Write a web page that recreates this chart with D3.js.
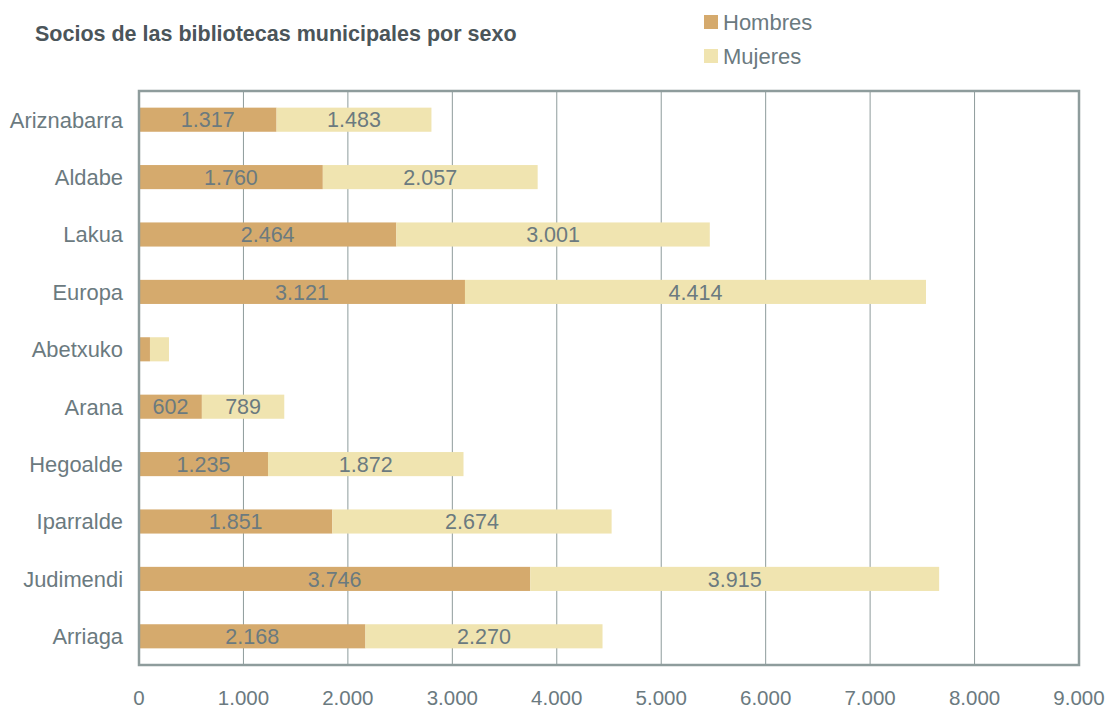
<!DOCTYPE html>
<html>
<head>
<meta charset="utf-8">
<script src="https://cdn.jsdelivr.net/npm/d3@7/dist/d3.min.js"></script>
<style>
  body { margin: 0; background: #fff; }
  svg text { font-family: 'Liberation Sans', Arial, sans-serif; }
</style>
</head>
<body>
<svg id="chart" width="1109" height="709"></svg>
<script>
const bibliotecas = ['Ariznabarra', 'Aldabe', 'Lakua', 'Europa', 'Abetxuko', 'Arana', 'Hegoalde', 'Iparralde', 'Judimendi', 'Arriaga'];
const hombres = [1317, 1760, 2464, 3121, 105, 602, 1235, 1851, 3746, 2168];
const mujeres = [1483, 2057, 3001, 4414, 182, 789, 1872, 2674, 3915, 2270];
const xTicks = [0, 1000, 2000, 3000, 4000, 5000, 6000, 7000, 8000, 9000];
const series = ['Hombres', 'Mujeres'];

const colors = { Hombres: '#d5aa6d', Mujeres: '#f0e4b0' };
const textColor = '#6b7a7f';
const frameColor = '#8e9c9c';

const margin = { top: 91, right: 30, bottom: 44, left: 139 };
const width = 1109;
const height = 709;

const svg = d3.select('#chart');

// format with dot thousands separator
const fmt = d3.formatLocale({ decimal: ',', thousands: '.', grouping: [3], currency: ['', '€'] }).format(',d');

const x = d3.scaleLinear().domain([0, 9000]).range([margin.left, width - margin.right]);
const y = d3.scaleBand()
  .domain(bibliotecas)
  .range([margin.top, height - margin.bottom])
  .paddingInner(0.58)
  .paddingOuter(0.29);

// grid lines
svg.append('g')
  .selectAll('line')
  .data(xTicks.slice(1, -1))
  .join('line')
  .attr('x1', (d) => x(d))
  .attr('x2', (d) => x(d))
  .attr('y1', margin.top)
  .attr('y2', height - margin.bottom)
  .attr('stroke', frameColor)
  .attr('stroke-width', 1);

// stacked bars
const rows = bibliotecas.map((b, i) => ({ name: b, Hombres: hombres[i], Mujeres: mujeres[i] }));
const stacked = d3.stack().keys(series)(rows);

const layers = svg.append('g')
  .selectAll('g')
  .data(stacked)
  .join('g')
  .attr('fill', (d) => colors[d.key]);

layers.selectAll('rect')
  .data((d) => d)
  .join('rect')
  .attr('x', (d) => x(d[0]))
  .attr('width', (d) => x(d[1]) - x(d[0]))
  .attr('y', (d) => y(d.data.name))
  .attr('height', y.bandwidth());

// value labels (skip the tiny Abetxuko segments)
layers.selectAll('text')
  .data((d) => d.map((v) => ({ v, key: d.key })))
  .join('text')
  .filter((d) => d.v.data[d.key] >= 500)
  .attr('x', (d) => (x(d.v[0]) + x(d.v[1])) / 2)
  .attr('y', (d) => y(d.v.data.name) + y.bandwidth() / 2)
  .attr('dy', '0.36em')
  .attr('text-anchor', 'middle')
  .attr('fill', textColor)
  .style('font-size', '21.5px')
  .text((d) => fmt(d.v.data[d.key]));

// plot frame
svg.append('rect')
  .attr('x', margin.left)
  .attr('y', margin.top)
  .attr('width', width - margin.right - margin.left)
  .attr('height', height - margin.bottom - margin.top)
  .attr('fill', 'none')
  .attr('stroke', frameColor)
  .attr('stroke-width', 2.5);

// category labels
svg.append('g')
  .selectAll('text')
  .data(bibliotecas)
  .join('text')
  .attr('x', 123)
  .attr('y', (d) => y(d) + y.bandwidth() / 2)
  .attr('dy', '0.36em')
  .attr('text-anchor', 'end')
  .attr('fill', textColor)
  .style('font-size', '21.9px')
  .text((d) => d);

// x tick labels
svg.append('g')
  .selectAll('text')
  .data(xTicks)
  .join('text')
  .attr('x', (d) => x(d))
  .attr('y', 705)
  .attr('text-anchor', 'middle')
  .attr('fill', textColor)
  .style('font-size', '20.5px')
  .text((d) => fmt(d));

// title
svg.append('text')
  .attr('x', 35)
  .attr('y', 41)
  .attr('fill', '#4b555a')
  .style('font-size', '21.5px')
  .style('font-weight', 'bold')
  .text('Socios de las bibliotecas municipales por sexo');

// legend
const legend = svg.append('g')
  .selectAll('g')
  .data(series)
  .join('g')
  .attr('transform', (d, i) => `translate(704, ${15 + i * 34})`);
legend.append('rect')
  .attr('width', 14)
  .attr('height', 14)
  .attr('fill', (d) => colors[d]);
legend.append('text')
  .attr('x', 19)
  .attr('y', 7)
  .attr('dy', '0.36em')
  .attr('fill', textColor)
  .style('font-size', '22px')
  .text((d) => d);
</script>
</body>
</html>
